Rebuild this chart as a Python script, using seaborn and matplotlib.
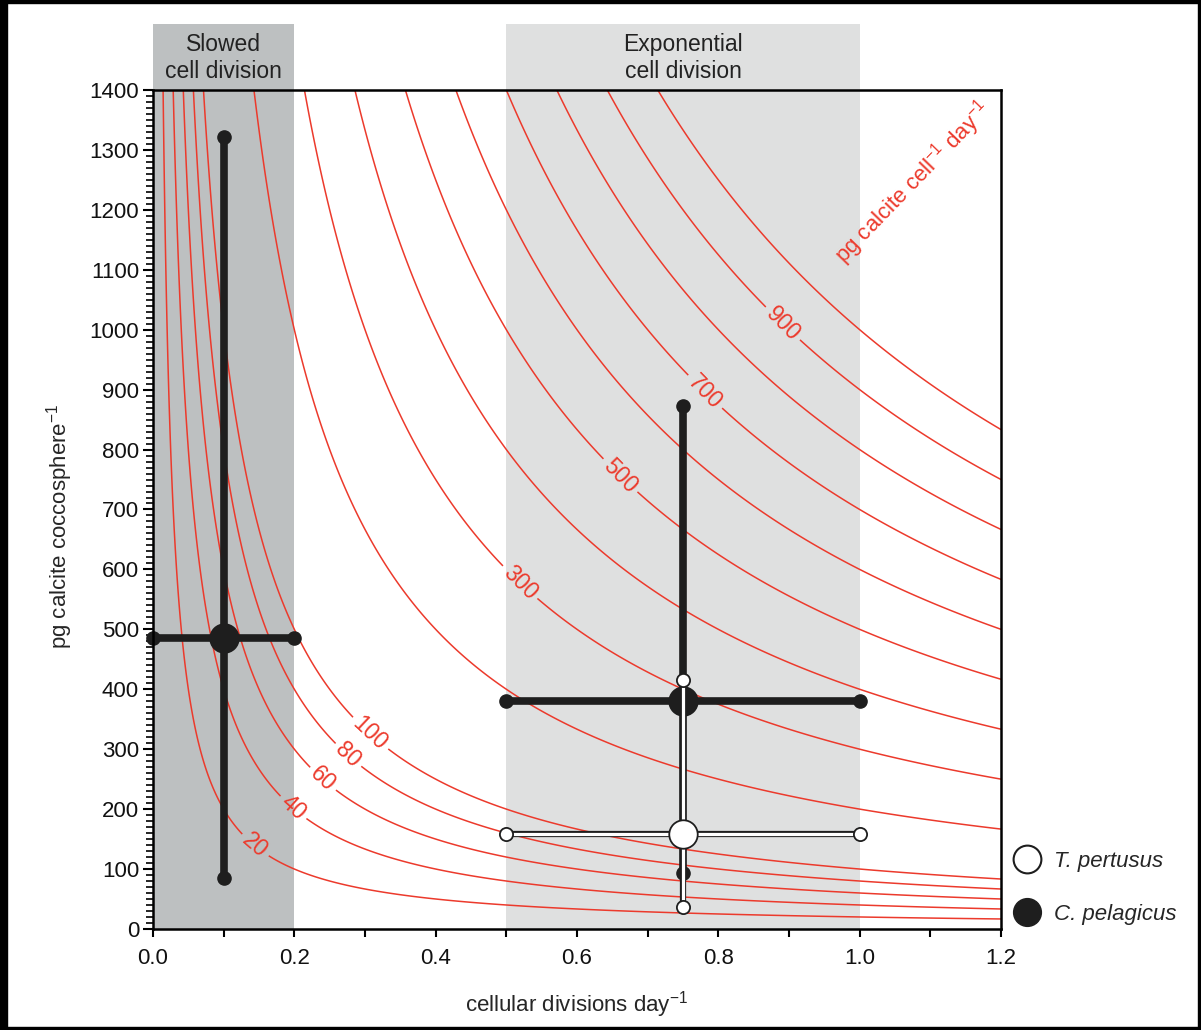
import matplotlib
matplotlib.use("Agg")
import matplotlib.pyplot as plt
from matplotlib.lines import Line2D
from matplotlib.patches import Rectangle
from matplotlib.ticker import MultipleLocator
import numpy as np
import pandas as pd
import seaborn as sns

# calcite per coccosphere vs division rate
species = ["C. pelagicus", "C. pelagicus", "T. pertusus"]
phase = ["slowed", "exponential", "exponential"]
div_mean = [0.10, 0.75, 0.75]
div_lo = [0.00, 0.50, 0.50]
div_hi = [0.20, 1.00, 1.00]
calc_mean = [485, 381, 158]
calc_lo = [85, 94, 36]
calc_hi = [1322, 873, 415]

# production isolines (pg calcite cell-1 day-1)
levels = [20, 40, 60, 80, 100, 200, 300, 400, 500, 600, 700, 800, 900, 1000]
labelled = [20, 40, 60, 80, 100, 300, 500, 700, 900]
label_x = [0.144, 0.198, 0.240, 0.276, 0.307, 0.519, 0.661, 0.781, 0.891]

RED = "#ec3a2c"

sns.set_theme(style="ticks")
plt.rcParams["font.family"] = ["Liberation Sans", "DejaVu Sans"]
plt.rcParams["mathtext.fontset"] = "custom"
plt.rcParams["mathtext.rm"] = "Liberation Sans"

df = pd.DataFrame({"species": species, "phase": phase, "x": div_mean, "xlo": div_lo,
                   "xhi": div_hi, "y": calc_mean, "ylo": calc_lo, "yhi": calc_hi})

fig = plt.figure(figsize=(12.01, 10.30), dpi=100)
ax = fig.add_axes([0.1274, 0.0981, 0.7061, 0.8145])

# shaded growth phases, extended above the axes for the titles
ax.axvspan(0.0, 0.2, ymin=0, ymax=1.079, color="#bdc0c1", lw=0, zorder=0, clip_on=False)
ax.axvspan(0.5, 1.0, ymin=0, ymax=1.079, color="#dfe0e0", lw=0, zorder=0, clip_on=False)
ax.text(0.1, 1.038, "Slowed\ncell division", transform=ax.get_xaxis_transform(),
        ha="center", va="center", fontsize=16.5, linespacing=1.25, color="#222222")
ax.text(0.75, 1.038, "Exponential\ncell division", transform=ax.get_xaxis_transform(),
        ha="center", va="center", fontsize=16.5, linespacing=1.25, color="#222222")

# isolines
gx = np.linspace(0.0005, 1.2, 900)
gy = np.linspace(0, 1400, 900)
X, Y = np.meshgrid(gx, gy)
plain = [lv for lv in levels if lv not in labelled]
ax.contour(X, Y, X * Y, levels=plain, colors=RED, linewidths=1.1, zorder=1)
cs = ax.contour(X, Y, X * Y, levels=labelled, colors=RED, linewidths=1.1, zorder=1)
ax.clabel(cs, manual=[(lx, lv / lx) for lx, lv in zip(label_x, labelled)],
          inline=True, inline_spacing=4, fontsize=16.5, fmt="%d", colors=RED)
ax.text(1.075, 1245, r"pg calcite cell$^{\mathregular{-1}}$ day$^{\mathregular{-1}}$",
        rotation=46, ha="center", va="center", fontsize=16, color=RED)

# C. pelagicus: thick black crosses
blk = df[df.species == "C. pelagicus"]
for _, r in blk.iterrows():
    ax.plot([r.xlo, r.xhi], [r.y, r.y], color="#1e1e1e", lw=5.5, solid_capstyle="butt",
            marker="o", ms=9.5, zorder=3, clip_on=False)
    ax.plot([r.x, r.x], [r.ylo, r.yhi], color="#1e1e1e", lw=5.5, solid_capstyle="butt",
            marker="o", ms=9.5, zorder=3, clip_on=False)
sns.scatterplot(data=blk, x="x", y="y", ax=ax, s=420, color="#1e1e1e", edgecolor="#1e1e1e",
                linewidth=1.3, zorder=4, legend=False)

# T. pertusus: white crosses with black outline
wht = df[df.species == "T. pertusus"]
for _, r in wht.iterrows():
    for xs, ys in [([r.xlo, r.xhi], [r.y, r.y]), ([r.x, r.x], [r.ylo, r.yhi])]:
        ax.plot(xs, ys, color="#1e1e1e", lw=4.5, solid_capstyle="butt", zorder=5)
    for xs, ys in [([r.xlo, r.xhi], [r.y, r.y]), ([r.x, r.x], [r.ylo, r.yhi])]:
        ax.plot(xs, ys, color="white", lw=2.3, solid_capstyle="butt", zorder=6)
        ax.plot(xs, ys, ls="none", marker="o", ms=9.5, mfc="white", mec="#1e1e1e",
                mew=1.3, zorder=7, clip_on=False)
sns.scatterplot(data=wht, x="x", y="y", ax=ax, s=420, color="white", edgecolor="#1e1e1e",
                linewidth=1.3, zorder=8, legend=False)

ax.set_xlim(0, 1.2)
ax.set_ylim(0, 1400)
ax.xaxis.set_major_locator(MultipleLocator(0.2))
ax.xaxis.set_minor_locator(MultipleLocator(0.1))
ax.yaxis.set_major_locator(MultipleLocator(100))
ax.yaxis.set_minor_locator(MultipleLocator(10))
ax.xaxis.set_major_formatter(plt.FuncFormatter(lambda v, p: f"{v:.1f}"))
ax.tick_params(axis="x", which="both", length=6, width=1.5, pad=8, labelsize=16, color="black")
ax.tick_params(axis="y", which="major", length=7, width=1.5, pad=3, labelsize=16, color="black")
ax.tick_params(axis="y", which="minor", length=5, width=1.2, color="black")
ax.tick_params(labelcolor="#111111")
for s in ax.spines.values():
    s.set_linewidth(1.8)
    s.set_color("black")
    s.set_zorder(9)

ax.set_xlabel(r"cellular divisions day$^{\mathregular{-1}}$", fontsize=16, labelpad=14)
ax.set_ylabel(r"pg calcite coccosphere$^{\mathregular{-1}}$", fontsize=16)
ax.yaxis.set_label_coords(-0.092, 0.48)

handles = [
    Line2D([], [], ls="none", marker="o", ms=20, mfc="white", mec="#1e1e1e", mew=1.5),
    Line2D([], [], ls="none", marker="o", ms=20, mfc="#1e1e1e", mec="#1e1e1e"),
]
leg = ax.legend(handles, ["T. pertusus", "C. pelagicus"], loc="lower left",
                bbox_to_anchor=(1.005, 0.005), frameon=False, borderpad=0, borderaxespad=0,
                handlelength=2.0, handletextpad=0.2, labelspacing=1.45, fontsize=16)
for t in leg.get_texts():
    t.set_fontstyle("italic")

# black frame around the picture
fig.add_artist(Rectangle((0, 0), 7 / 1201, 1, transform=fig.transFigure, color="black"))
fig.add_artist(Rectangle((0, 1 - 3 / 1030), 1, 3 / 1030, transform=fig.transFigure, color="black"))
fig.add_artist(Rectangle((1 - 3 / 1201, 0), 3 / 1201, 1, transform=fig.transFigure, color="black"))
fig.add_artist(Rectangle((0, 0), 1, 3 / 1030, transform=fig.transFigure, color="black"))

fig.savefig("out.png", dpi=100)
